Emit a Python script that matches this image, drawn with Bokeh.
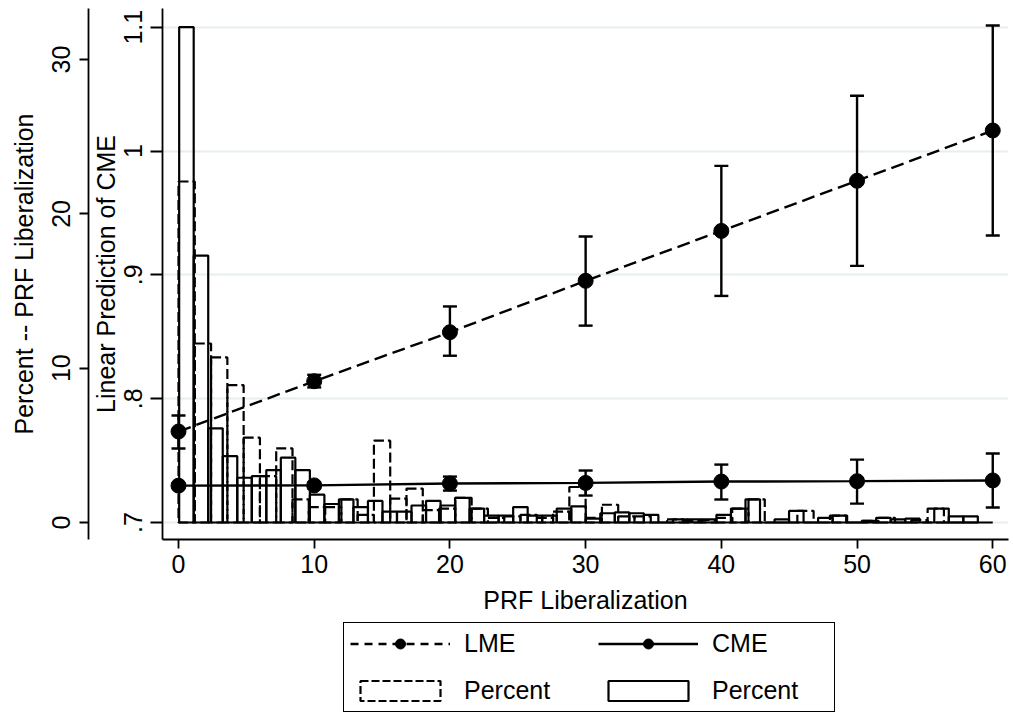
import numpy as np
from bokeh.plotting import figure
from bokeh.layouts import column
from bokeh.models import (Range1d, LinearAxis, FixedTicker, CustomJSTickFormatter,
                          Whisker, TeeHead, ColumnDataSource, Legend, LegendItem)
from bokeh.embed import file_html
from bokeh.resources import INLINE

# ---------------- data ----------------
x_pts = [0, 10, 20, 30, 40, 50, 60]
lme = [0.7735, 0.8141, 0.8537, 0.8952, 0.9355, 0.9760, 1.0166]
lme_lo = [0.7598, 0.8091, 0.8347, 0.8590, 0.8830, 0.9073, 0.9318]
lme_hi = [0.7864, 0.8193, 0.8745, 0.9310, 0.9880, 1.0446, 1.1014]
cme = [0.7298, 0.7300, 0.7315, 0.7320, 0.7331, 0.7334, 0.7340]
cme_lo = [0.7280, 0.7275, 0.7258, 0.7218, 0.7186, 0.7153, 0.7121]
cme_hi = [0.7316, 0.7325, 0.7371, 0.7420, 0.7468, 0.7508, 0.7557]

# histogram of PRF liberalization, LME group (dashed outline)
lme_bin_start = 0.0
lme_bin_width = 1.2
lme_pct = [22.1, 11.6, 10.7, 8.9, 5.5, 3.0, 4.8, 1.5, 1.0, 1.0,
           1.5, 0.5, 5.3, 1.55, 2.2, 0.8, 0.9, 1.6, 0.9, 0.3,
           0.4, 0.5, 0.3, 0.7, 2.3, 0.3, 1.15, 0.4, 0.4, 0.0,
           0.2, 0.1, 0.15, 0.3, 0.9, 1.5, 0.0, 0.0, 0.75, 0.0,
           0.45, 0.0, 0.1, 0.3, 0.0, 0.15, 0.9, 0.0, 0.0, 0.0]
# histogram of PRF liberalization, CME group (solid outline)
cme_bin_start = 0.05
cme_bin_width = 1.07
cme_pct = [32.1, 17.3, 6.1, 4.3, 2.9, 3.0, 3.4, 4.2, 3.4, 1.8,
           1.2, 1.5, 1.0, 1.4, 0.7, 0.7, 1.1, 1.4, 1.1, 1.6,
           0.9, 0.45, 0.45, 1.0, 0.45, 0.45, 0.9, 1.05, 0.25, 0.6,
           0.65, 0.6, 0.5, 0.0, 0.2, 0.2, 0.2, 0.5, 0.9, 1.5,
           0.0, 0.2, 0.75, 0.0, 0.3, 0.45, 0.0, 0.1, 0.3, 0.2,
           0.25, 0.0, 0.9, 0.4, 0.4]

x_ticks = [0, 10, 20, 30, 40, 50, 60]
pred_ticks = [0.7, 0.8, 0.9, 1.0, 1.1]
pct_ticks = [0, 10, 20, 30]
legend_labels = ["LME", "CME", "Percent", "Percent"]

# ---------------- figure ----------------
FONT = "Liberation Sans"
FS = "25px"

p = figure(frame_width=846, frame_height=531, output_backend="svg", toolbar_location=None,
           x_range=Range1d(-1.179, 61.16), y_range=Range1d(0.6863, 1.1151),
           min_border_left=162, min_border_right=5, min_border_top=8,
           min_border_bottom=81)
p.extra_y_ranges = {"pct": Range1d(-1.102, 33.31)}
p.outline_line_color = None
p.background_fill_color = "white"
p.border_fill_color = "white"

# axes
p.xaxis.ticker = FixedTicker(ticks=x_ticks)
p.xaxis.axis_label = "PRF Liberalization"
p.yaxis.ticker = FixedTicker(ticks=pred_ticks)
p.yaxis.axis_label = "Linear Prediction of CME"
p.yaxis.formatter = CustomJSTickFormatter(
    code="return tick.toFixed(1).replace(/^0/, '').replace(/\\.0$/, '');")
p.yaxis.major_label_orientation = "vertical"

pct_axis = LinearAxis(y_range_name="pct", ticker=FixedTicker(ticks=pct_ticks),
                      axis_label="Percent -- PRF Liberalization",
                      major_label_orientation="vertical")
p.add_layout(pct_axis, "left")

for ax in [p.xaxis[0], p.yaxis[0], pct_axis]:
    ax.axis_line_width = 1.8
    ax.axis_line_color = "black"
    ax.major_tick_line_width = 1.8
    ax.major_tick_line_color = "black"
    ax.minor_tick_line_color = None
    ax.major_tick_in = 0
    ax.major_label_text_font = FONT
    ax.major_label_text_font_size = FS
    ax.major_label_text_color = "black"
    ax.axis_label_text_font = FONT
    ax.axis_label_text_font_size = FS
    ax.axis_label_text_font_style = "normal"
    ax.axis_label_text_color = "black"

p.xaxis.major_tick_out = 9
p.xaxis.major_label_standoff = 6
p.xaxis.axis_label_standoff = 10
p.yaxis[0].major_tick_out = 12
p.yaxis[0].major_label_standoff = 8
p.yaxis[0].axis_label_standoff = 2
pct_axis.major_tick_out = 9
pct_axis.major_label_standoff = 9
pct_axis.axis_label_standoff = 12

p.xgrid.grid_line_color = None
p.ygrid.ticker = FixedTicker(ticks=pred_ticks)
p.ygrid.grid_line_color = "#e6eef0"
p.ygrid.grid_line_width = 2

# histograms
def edges(start, width, n):
    left = [start + i * width for i in range(n)]
    right = [start + (i + 1) * width for i in range(n)]
    return left, right

cl, cr = edges(cme_bin_start, cme_bin_width, len(cme_pct))
dl, dr = edges(lme_bin_start, lme_bin_width, len(lme_pct))

HIST_W = 2.2
LME_DASH = "13 6"
HIST_DASH = "10 4"

p.quad(left=cl, right=cr, bottom=0, top=cme_pct, y_range_name="pct",
       fill_alpha=0, line_color="black", line_width=HIST_W)
p.quad(left=dl, right=dr, bottom=0, top=lme_pct, y_range_name="pct",
       fill_alpha=0, line_color="black", line_width=HIST_W, line_dash=HIST_DASH)

# prediction lines
p.line(x_pts, lme, line_color="black", line_width=2.4, line_dash=LME_DASH)
p.line(x_pts, cme, line_color="black", line_width=2.4)

src_l = ColumnDataSource(dict(x=x_pts, lo=lme_lo, hi=lme_hi))
src_c = ColumnDataSource(dict(x=x_pts, lo=cme_lo, hi=cme_hi))
for src in (src_l, src_c):
    w = Whisker(source=src, base="x", lower="lo", upper="hi",
                line_color="black", line_width=2.4,
                upper_head=TeeHead(size=14, line_width=2.4, line_color="black"),
                lower_head=TeeHead(size=14, line_width=2.4, line_color="black"))
    p.add_layout(w)

p.scatter(x_pts, lme, size=15, color="black")
p.scatter(x_pts, cme, size=15, color="black")

# ---------------- legend strip (separate figure directly below) ----------------
q = figure(width=1013, height=93, output_backend="svg", toolbar_location=None,
           x_range=Range1d(0, 1), y_range=Range1d(0, 1),
           x_axis_type=None, y_axis_type=None,
           min_border_left=0, min_border_right=0, min_border_top=0, min_border_bottom=0)
q.outline_line_color = None
q.xgrid.grid_line_color = None
q.ygrid.grid_line_color = None
q.background_fill_color = "white"
q.border_fill_color = "white"

# key renderers: placed outside the visible range, only their styles are shown in the legend
ox, oy = [5, 6], [5, 5]
k_lme_l = q.line(x=ox, y=oy, line_color="black", line_width=2.4, line_dash="8 6")
k_lme_s = q.scatter(x=ox, y=oy, size=15, color="black")
k_cme_l = q.line(x=ox, y=oy, line_color="black", line_width=2.4)
k_cme_s = q.scatter(x=ox, y=oy, size=15, color="black")
k_h_l = q.quad(left=[5], right=[6], bottom=[5], top=[6], fill_alpha=0,
               line_color="black", line_width=HIST_W, line_dash="8 3")
k_h_c = q.quad(left=[5], right=[6], bottom=[5], top=[6], fill_alpha=0,
               line_color="black", line_width=HIST_W)

legend = Legend(items=[LegendItem(label=legend_labels[0], renderers=[k_lme_l, k_lme_s]),
                       LegendItem(label=legend_labels[1], renderers=[k_cme_l, k_cme_s]),
                       LegendItem(label=legend_labels[2], renderers=[k_h_l]),
                       LegendItem(label=legend_labels[3], renderers=[k_h_c])],
                orientation="horizontal", ncols=2, location=(181, 1),
                glyph_width=100, glyph_height=25, label_standoff=14,
                spacing=18, label_width=116, padding=6, margin=0,
                label_text_font=FONT, label_text_font_size=FS,
                label_text_color="black",
                border_line_color="black", border_line_width=1.5,
                border_line_alpha=1.0,
                background_fill_color="white")
q.add_layout(legend, "center")

open("out.html", "w").write(file_html(column(p, q, spacing=0), INLINE))
